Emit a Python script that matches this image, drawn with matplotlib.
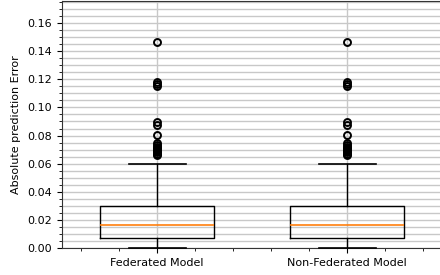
import matplotlib
matplotlib.use('Agg')
import matplotlib.pyplot as plt
from matplotlib.ticker import AutoMinorLocator, MultipleLocator

# valores (as duas caixas sao iguais)
modelos = ['Federated Model', 'Non-Federated Model']
q1 = [0.0069, 0.0069]
mediana = [0.0162, 0.0162]
q3 = [0.0296, 0.0296]
bigode_baixo = [0.0, 0.0]
bigode_alto = [0.0597, 0.0597]
outliers = [0.066, 0.067, 0.068, 0.069, 0.070, 0.071, 0.072, 0.073, 0.0745,
            0.0804, 0.0875, 0.0895, 0.1152, 0.1165, 0.1178, 0.1467]

plt.rcParams['font.size'] = 8

stats = []
for i, nome in enumerate(modelos):
    stats.append({'label': nome, 'q1': q1[i], 'med': mediana[i], 'q3': q3[i],
                  'whislo': bigode_baixo[i], 'whishi': bigode_alto[i],
                  'fliers': outliers})

fig = plt.figure(figsize=(4.4, 2.75), dpi=100)
ax = fig.add_axes([62 / 440, 27 / 275, 380 / 440, 247 / 275])

caixas = ax.bxp(stats, widths=0.6,
                boxprops=dict(linewidth=1.0, color='black'),
                whiskerprops=dict(linewidth=1.0, color='black'),
                capprops=dict(linewidth=1.2, color='black', zorder=3, clip_on=False),
                medianprops=dict(linewidth=1.2, color='#ff7f0e'),
                flierprops=dict(marker='o', markersize=5, markeredgewidth=1.4,
                                markerfacecolor='none', markeredgecolor='black'))

ax.set_xlim(0.5, 2.5)
ax.set_ylim(0, 0.1757)
ax.yaxis.set_major_locator(MultipleLocator(0.02))
ax.yaxis.set_minor_locator(AutoMinorLocator(4))
ax.xaxis.set_minor_locator(AutoMinorLocator(5))
ax.grid(axis='y', which='both', color='#c8c8c8', linewidth=1.0)
ax.grid(axis='x', which='major', color='#c8c8c8', linewidth=1.0)
ax.set_axisbelow(True)
for lado in ax.spines.values():
    lado.set_color('#333333')
ax.set_ylabel('Absolute prediction Error', labelpad=5)

fig.savefig('out.png', dpi=100)
